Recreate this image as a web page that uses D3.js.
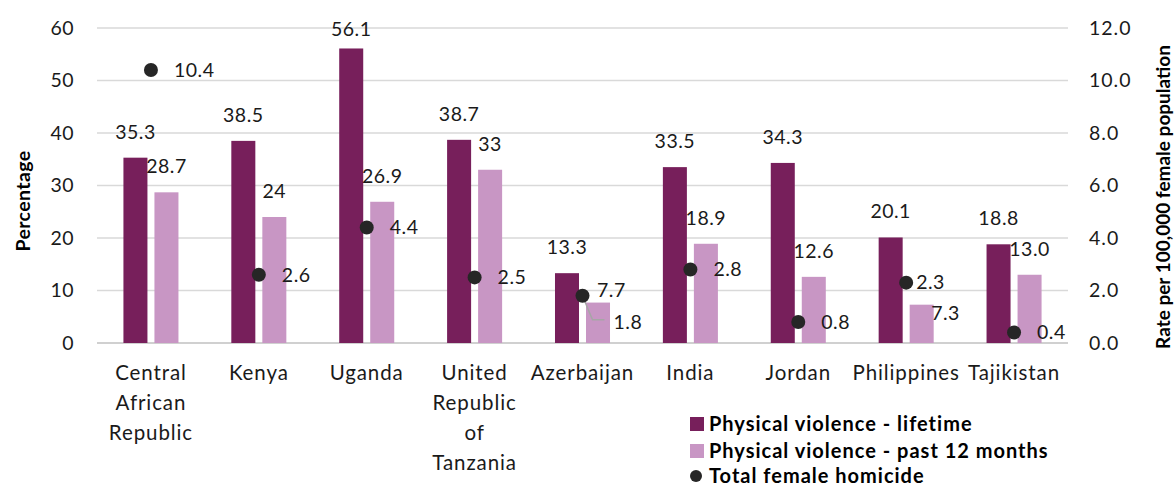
<!DOCTYPE html>
<html>
<head>
<meta charset="utf-8">
<script src="https://cdn.jsdelivr.net/npm/d3@7"></script>
<style>
  html, body { margin: 0; padding: 0; background: #ffffff; }
  svg { display: block; font-family: Lato, "Open Sans", "Liberation Sans", sans-serif; }
</style>
</head>
<body>
<svg id="chart" width="1176" height="486"></svg>
<script>
// ---- data ----
const categories = ["Central African Republic", "Kenya", "Uganda", "United Republic of Tanzania",
  "Azerbaijan", "India", "Jordan", "Philippines", "Tajikistan"];
const categoryLines = [["Central", "African", "Republic"], ["Kenya"], ["Uganda"],
  ["United", "Republic", "of", "Tanzania"], ["Azerbaijan"], ["India"], ["Jordan"],
  ["Philippines"], ["Tajikistan"]];
const lifetime = [35.3, 38.5, 56.1, 38.7, 13.3, 33.5, 34.3, 20.1, 18.8];
const lifetimeLabels = ["35.3", "38.5", "56.1", "38.7", "13.3", "33.5", "34.3", "20.1", "18.8"];
const past12 = [28.7, 24, 26.9, 33, 7.7, 18.9, 12.6, 7.3, 13.0];
const past12Labels = ["28.7", "24", "26.9", "33", "7.7", "18.9", "12.6", "7.3", "13.0"];
const homicide = [10.4, 2.6, 4.4, 2.5, 1.8, 2.8, 0.8, 2.3, 0.4];
const homicideLabels = ["10.4", "2.6", "4.4", "2.5", "1.8", "2.8", "0.8", "2.3", "0.4"];
const leftTicks = [0, 10, 20, 30, 40, 50, 60];
const rightTicks = [0, 2, 4, 6, 8, 10, 12];
const seriesNames = ["Physical violence - lifetime", "Physical violence - past 12 months", "Total female homicide"];

(function () {
// ---- styles / layout ----
const colDark = "#771F5B", colLight = "#C896C4", colDot = "#262626", colGrid = "#D9D9D9";
const FS = 19.5;
const NUM_LS = 0.5;
const svg = d3.select("#chart");
const pLeft = 97, pRight = 1068, pTop = 28, pBottom = 343;

const x0 = d3.scaleBand().domain(categories).range([pLeft, pRight]).paddingInner(0.49).paddingOuter(0.245);
const x1 = d3.scaleBand().domain(["lifetime", "past12"]).range([0, x0.bandwidth()]).paddingInner(7 / 31);
const yL = d3.scaleLinear().domain([0, 60]).range([pBottom, pTop]);
const yR = d3.scaleLinear().domain([0, 12]).range([pBottom, pTop]);
const cx = i => x0(categories[i]) + x0.bandwidth() / 2;

// gridlines
svg.append("g").selectAll("line").data(leftTicks.filter(t => t > 0)).join("line")
  .attr("x1", pLeft).attr("x2", pRight).attr("y1", d => yL(d)).attr("y2", d => yL(d))
  .attr("stroke", colGrid).attr("stroke-width", 1.5);
svg.append("line").attr("x1", pLeft).attr("x2", pRight).attr("y1", yL(0)).attr("y2", yL(0))
  .attr("stroke", "#D0D0D0").attr("stroke-width", 2);

// left axis labels
const axL = svg.append("g").attr("transform", `translate(${pLeft - 8},0)`)
  .call(d3.axisLeft(yL).tickValues(leftTicks).tickSize(0).tickPadding(15).tickFormat(d3.format("d")));
axL.select(".domain").remove();
axL.selectAll("text").attr("font-size", FS).attr("font-family", "Lato, sans-serif").attr("fill", "#1a1a1a")
  .attr("letter-spacing", NUM_LS);

// right axis labels
const axR = svg.append("g").attr("transform", `translate(${1089},0)`)
  .call(d3.axisRight(yR).tickValues(rightTicks).tickSize(0).tickPadding(0).tickFormat(d3.format(".1f")));
axR.select(".domain").remove();
axR.selectAll("text").attr("font-size", FS).attr("font-family", "Lato, sans-serif").attr("fill", "#1a1a1a")
  .attr("letter-spacing", 1);

// axis titles
svg.append("text").attr("transform", "translate(30,201) rotate(-90)").attr("text-anchor", "middle")
  .attr("font-size", 19.5).attr("font-weight", "bold").attr("letter-spacing", 0.4).text("Percentage");
svg.append("text").attr("transform", "translate(1170,197) rotate(-90)").attr("text-anchor", "middle")
  .attr("font-size", 19).attr("font-weight", "bold").text("Rate per 100,000 female population");

// category labels
const catG = svg.append("g");
categoryLines.forEach((lines, i) => {
  const t = catG.append("text").attr("x", cx(i)).attr("text-anchor", "middle")
    .attr("font-size", 20.5).attr("letter-spacing", 0.9).attr("fill", "#1a1a1a");
  lines.forEach((ln, k) => t.append("tspan").attr("x", cx(i)).attr("y", 373 + k * 30).attr("dy", "0.35em").text(ln));
});

// bars
const g = svg.append("g");
g.selectAll("rect.dark").data(lifetime).join("rect").attr("class", "dark")
  .attr("x", (d, i) => x0(categories[i]) + x1("lifetime")).attr("width", x1.bandwidth())
  .attr("y", d => yL(d)).attr("height", d => yL(0) - yL(d)).attr("fill", colDark);
g.selectAll("rect.light").data(past12).join("rect").attr("class", "light")
  .attr("x", (d, i) => x0(categories[i]) + x1("past12")).attr("width", x1.bandwidth())
  .attr("y", d => yL(d)).attr("height", d => yL(0) - yL(d)).attr("fill", colLight);

// bar labels (default: centered above bar)
const labelG = svg.append("g").attr("font-size", FS).attr("letter-spacing", NUM_LS).attr("fill", "#1a1a1a");
const nudge = {
  "lifetime-2": { dy: 7 },
  "past12-4": { anchor: "start", dx: -1, dy: 14 },
  "past12-7": { anchor: "start", dx: 9.5, dy: 34 }
};
function barLabels(vals, labels, key) {
  vals.forEach((v, i) => {
    const n = nudge[key + "-" + i] || {};
    const bx = x0(categories[i]) + x1(key) + x1.bandwidth() / 2;
    labelG.append("text").attr("x", bx + (n.dx || 0)).attr("y", yL(v) - 26 + (n.dy || 0))
      .attr("dy", "0.35em").attr("text-anchor", n.anchor || "middle").text(labels[i]);
  });
}
barLabels(lifetime, lifetimeLabels, "lifetime");
barLabels(past12, past12Labels, "past12");

// homicide labels + leader
const hNudge = { 4: { dx: 31, dy: 26, leader: true }, 7: { dx: 10, dy: 0 } };
homicide.forEach((v, i) => {
  const n = hNudge[i] || { dx: 23, dy: 0 };
  const px = cx(i), py = yR(v);
  if (n.leader) {
    svg.append("polyline").attr("points", `${px},${py} ${px + 10},${py + 24} ${px + 22},${py + 24}`)
      .attr("fill", "none").attr("stroke", "#A6A6A6").attr("stroke-width", 1.5);
  }
  labelG.append("text").attr("x", px + n.dx).attr("y", py + n.dy).attr("dy", "0.35em")
    .attr("text-anchor", "start").text(homicideLabels[i]);
});

// homicide dots (on top)
svg.append("g").selectAll("circle").data(homicide).join("circle")
  .attr("cx", (d, i) => cx(i)).attr("cy", d => yR(d)).attr("r", 7).attr("fill", colDot);

// legend
const lg = svg.append("g").attr("font-size", 20).attr("font-weight", "bold").attr("letter-spacing", 1).attr("fill", "#000");
const lx = 690, ly = [424, 451, 476];
lg.append("rect").attr("x", lx).attr("y", ly[0] - 7).attr("width", 14).attr("height", 14).attr("fill", colDark);
lg.append("rect").attr("x", lx).attr("y", ly[1] - 7).attr("width", 14).attr("height", 14).attr("fill", colLight);
lg.append("circle").attr("cx", lx + 6).attr("cy", ly[2]).attr("r", 6).attr("fill", colDot);
seriesNames.forEach((s, k) => {
  lg.append("text").attr("x", 709).attr("y", ly[k]).attr("dy", "0.35em").text(s);
});
})();
</script>
</body>
</html>
